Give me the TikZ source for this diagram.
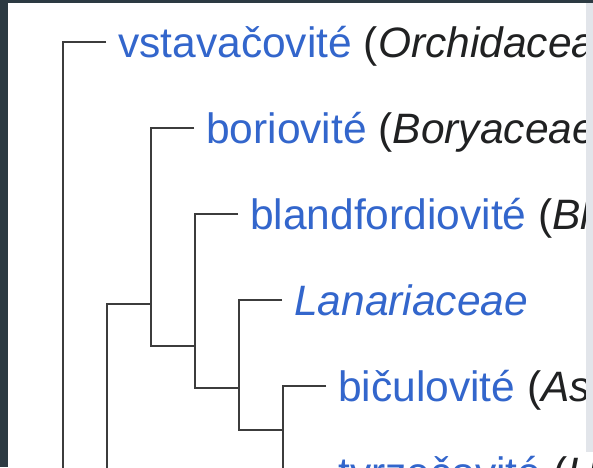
\documentclass[tikz,border=0pt]{standalone}
\usepackage{fontspec}
\setmainfont{Liberation Sans}
\usepackage{tikz}
\usetikzlibrary{positioning}
\definecolor{linkblue}{RGB}{51,102,204}
\definecolor{textdark}{RGB}{32,33,34}
\definecolor{framedark}{RGB}{44,58,66}
\definecolor{stripgray}{RGB}{226,229,234}
\definecolor{branchgray}{RGB}{60,60,60}
\newcommand{\wlink}[1]{\textcolor{linkblue}{#1}}

\begin{document}
\begin{tikzpicture}[x=1pt, y=1pt,
    taxon/.style={anchor=base west, inner sep=0pt, text=textdark,
                  font=\fontsize{42.5}{50}\selectfont},
    branch/.style={draw=branchgray, line width=1.9pt}
]
    \useasboundingbox (0,0) rectangle (593,-467);
    \clip (0,0) rectangle (593,-467);
    \fill[white] (0,0) rectangle (593,-467);

    % tips of the branches
    \coordinate (t1) at (106,-42);
    \coordinate (t2) at (194,-128);
    \coordinate (t3) at (238,-214);
    \coordinate (t4) at (282,-300);
    \coordinate (t5) at (326,-386);
    \coordinate (t6) at (326,-472);
    % inner nodes
    \coordinate (r0) at (63,-520);
    \coordinate (c1) at (107,-520);
    \coordinate (c2) at (151,-304);
    \coordinate (c3) at (195,-346);
    \coordinate (c4) at (239,-388);
    \coordinate (c5) at (283,-430);

    \node[taxon] (orch) at (118,-57) {\wlink{vstavačovité} (\textit{Orchidaceae})};
    \node[taxon] (bory) at (206,-143) {\wlink{boriovité} (\textit{Boryaceae})};
    \node[taxon] (bland) at (250,-229) {\wlink{blandfordiovité} (\textit{Blandfordiaceae})};
    \node[taxon] (lanar) at (294,-315) {\wlink{\textit{Lanariaceae}}};
    \node[taxon] (astel) at (338,-401) {\wlink{bičulovité} (\textit{Asteliaceae})};
    \node[taxon] (hypox) at (338,-487) {\wlink{tvrzečovité} (\textit{Hypoxidaceae})};

    \draw[branch] (t1) -| (r0);
    \draw[branch] (c2) -| (c1);
    \draw[branch] (t2) -| (c2) |- (c3);
    \draw[branch] (t3) -| (c3) |- (c4);
    \draw[branch] (t4) -| (c4) |- (c5);
    \draw[branch] (t5) -| (c5) |- (t6);

    % page frame
    \fill[stripgray] (586,-3) rectangle (593,-452);
    \fill[framedark] (0,0) rectangle (593,-3);
    \fill[framedark] (0,0) rectangle (8,-467);
\end{tikzpicture}
\end{document}
